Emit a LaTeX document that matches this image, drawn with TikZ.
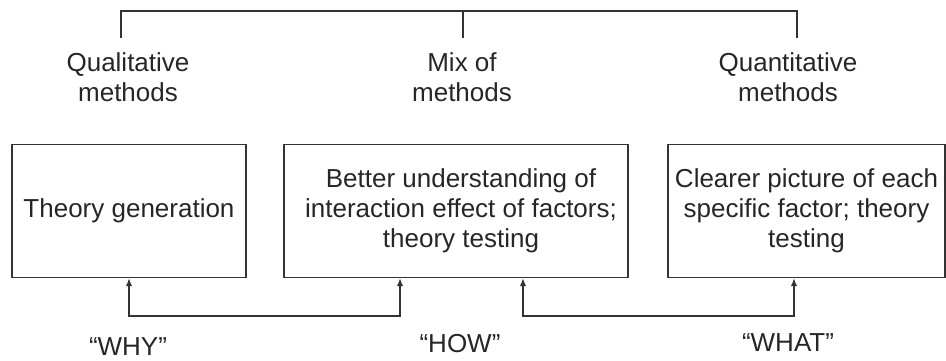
\documentclass[tikz,border=0pt]{standalone}
\usepackage{fontspec}
\setmainfont{Liberation Sans}
\usetikzlibrary{arrows.meta}
\begin{document}
\begin{tikzpicture}[x=1pt,y=-1pt,
  line/.style={draw=black!80,line width=1.4pt},
  arr/.style={line,{Latex[length=8pt,width=6.5pt]}-{Latex[length=8pt,width=6.5pt]}},
  txt/.style={font=\fontsize{26}{30}\selectfont,align=center,inner sep=0pt,text=black!85},
  panel/.style={txt,line,minimum height=133pt,anchor=center}]
\useasboundingbox (0,0) rectangle (946,360);

% method headings
\node[txt] (qual) at (128,77) {Qualitative\\methods};
\node[txt] (mix)  at (462,77) {Mix of\\methods};
\node[txt] (quan) at (788,77) {Quantitative\\methods};

% bracket joining the three headings
\coordinate (t1) at (121,38);
\coordinate (t2) at (463,38);
\coordinate (t3) at (797,38);
\coordinate (top) at (463,11);
\draw[line] (t1) |- (top) -| (t3);
\draw[line] (t2) -- (top);

% outcome panels
\node[panel,minimum width=234pt] (b1) at (129,211) {Theory generation};
\node[panel,minimum width=344pt] (b2) at (456,211) {\hspace*{10pt}Better understanding of\\\hspace*{10pt}interaction effect of factors;\\\hspace*{10pt}theory testing};
\node[panel,minimum width=277pt] (b3) at (806.5,211) {Clearer picture of each\\specific factor; theory\\testing};

% linking arrows
\coordinate (h1) at (400,316);
\coordinate (h2) at (523,316);
\coordinate (h3) at (794,316);
\draw[arr] (b1.south) |- (h1) -- (h1 |- b2.south);
\draw[arr] (h2 |- b2.south) -- (h2) -- (h3) -- (h3 |- b3.south);

% question labels
\node[txt,anchor=base] (why)  at (128,355) {“WHY”};
\node[txt,anchor=base] (how)  at (460,352) {“HOW”};
\node[txt,anchor=base] (what) at (788,351) {“WHAT”};
\end{tikzpicture}
\end{document}
